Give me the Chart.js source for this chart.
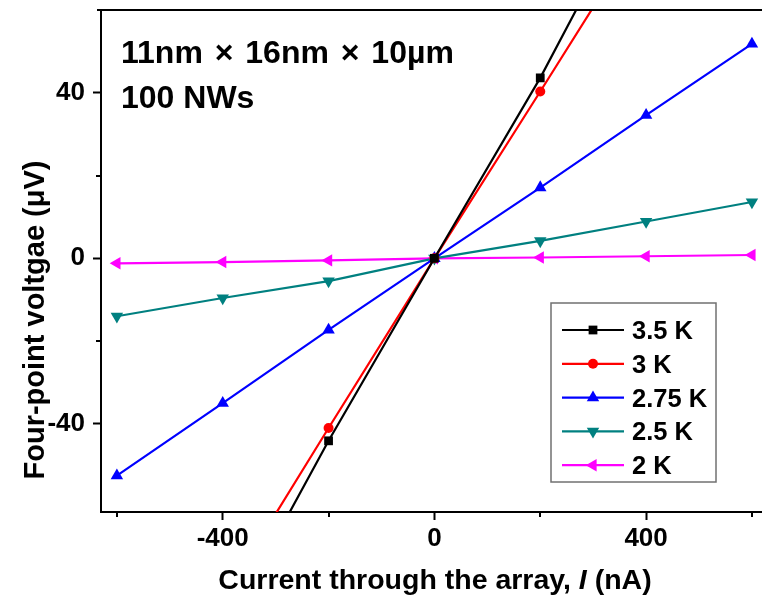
<!DOCTYPE html>
<html><head><meta charset="utf-8">
<script src="https://cdn.jsdelivr.net/npm/chart.js@4/dist/chart.umd.min.js"></script>
<style>html,body{margin:0;padding:0;background:#fff}#wrap{width:762px;height:597px;position:relative}</style>
</head><body><div id="wrap"><canvas id="c" width="762" height="597"></canvas></div>
<script>
const currents = [-600, -400, -200, 0, 200, 400, 600];
const seriesNames = ['3.5 K', '3 K', '2.75 K', '2.5 K', '2 K'];
const v35K = [-133, -91, -44.1, 0, 43.6, 92, 134];
const v3K = [-122, -82.5, -41, 0, 40.3, 81, 121];
const v275K = [-52.5, -35.0, -17.3, 0, 17.1, 34.6, 51.8];
const v25K = [-14.0, -9.6, -5.5, 0, 4.2, 8.9, 13.6];
const v2K = [-1.2, -0.9, -0.5, 0, 0.2, 0.5, 0.8];
const xTicks = [-600, -400, -200, 0, 200, 400, 600];
const xLabelTicks = [-400, 0, 400];
const yTicks = [-40, -20, 0, 20, 40];
const yLabelTicks = [-40, 0, 40];
const annotation1 = ['11nm', '\u00d7', '16nm', '\u00d7', '10\u00b5m'];
const annotation2 = '100 NWs';
const xTitleParts = ['Current through the array, ', 'I', ' (nA)'];
const yTitle = 'Four-point voltgae (\u03bcV)';

const FONT = '"Liberation Sans", Arial, sans-serif';
const styles = [
  {color: '#000000', pointStyle: 'rect', radius: 6.2, rotation: 0},
  {color: '#ff0000', pointStyle: 'circle', radius: 5, rotation: 0},
  {color: '#0000ff', pointStyle: 'triangle', radius: 7.2, rotation: 0},
  {color: '#008080', pointStyle: 'triangle', radius: 7.2, rotation: 180},
  {color: '#ff00ff', pointStyle: 'triangle', radius: 7.2, rotation: 270}
];
const allValues = [v35K, v3K, v275K, v25K, v2K];

const datasets = allValues.map((vals, i) => ({
  label: seriesNames[i],
  data: currents.map((c, j) => ({x: c, y: vals[j]})),
  borderColor: styles[i].color,
  backgroundColor: styles[i].color,
  borderWidth: 2.2,
  pointStyle: styles[i].pointStyle,
  pointRadius: styles[i].radius,
  pointRotation: styles[i].rotation,
  pointBorderWidth: 0,
  pointHoverRadius: styles[i].radius,
  tension: 0,
  clip: 0
}));

function drawMarker(ctx, style, x, y) {
  ctx.save();
  ctx.fillStyle = style.color;
  ctx.translate(x, y);
  ctx.rotate(style.rotation * Math.PI / 180);
  const r = style.radius;
  ctx.beginPath();
  if (style.pointStyle === 'rect') {
    const s = r * Math.SQRT1_2;
    ctx.rect(-s, -s, 2 * s, 2 * s);
  } else if (style.pointStyle === 'circle') {
    ctx.arc(0, 0, r, 0, Math.PI * 2);
  } else {
    ctx.moveTo(0, -r);
    ctx.lineTo(r * Math.sin(Math.PI * 2 / 3), r * 0.5);
    ctx.lineTo(-r * Math.sin(Math.PI * 2 / 3), r * 0.5);
    ctx.closePath();
  }
  ctx.fill();
  ctx.restore();
}

function zeroPad(s) { s.paddingTop = 0; s.paddingBottom = 0; s.paddingLeft = 0; s.paddingRight = 0; }

const decor = {
  id: 'decor',
  afterDraw(chart) {
    const ctx = chart.ctx;
    const ca = chart.chartArea;
    const xs = chart.scales.x, ys = chart.scales.y;
    ctx.save();
    ctx.strokeStyle = '#000'; ctx.lineWidth = 2;
    ctx.beginPath(); ctx.moveTo(ca.left - 4, ca.top); ctx.lineTo(ca.right, ca.top); ctx.stroke();
    xTicks.filter(t => !xLabelTicks.includes(t)).forEach(t => {
      const px = Math.round(xs.getPixelForValue(t));
      ctx.beginPath(); ctx.moveTo(px, ca.bottom); ctx.lineTo(px, ca.bottom + 5); ctx.stroke();
    });
    yTicks.filter(t => !yLabelTicks.includes(t)).forEach(t => {
      const py = Math.round(ys.getPixelForValue(t));
      ctx.beginPath(); ctx.moveTo(ca.left, py); ctx.lineTo(ca.left - 5, py); ctx.stroke();
    });
    ctx.fillStyle = '#000';
    ctx.textBaseline = 'alphabetic';
    ctx.textAlign = 'left';
    ctx.font = 'bold 32px ' + FONT;
    let ax = 121;
    const gap = ctx.measureText(' ').width + 3;
    annotation1.forEach((p) => {
      ctx.fillText(p, ax, 63);
      ax += ctx.measureText(p).width + gap;
    });
    ctx.fillText(annotation2, 121, 108);
    const xf = 'bold 28.5px ' + FONT, xfi = 'bold italic 28.5px ' + FONT;
    ctx.font = xf;
    const w0 = ctx.measureText(xTitleParts[0]).width;
    ctx.font = xfi;
    const w1 = ctx.measureText(xTitleParts[1]).width;
    ctx.font = xf;
    const w2 = ctx.measureText(xTitleParts[2]).width;
    let x0 = 435 - (w0 + w1 + w2) / 2;
    const yb = 589;
    ctx.fillText(xTitleParts[0], x0, yb);
    ctx.font = xfi;
    ctx.fillText(xTitleParts[1], x0 + w0, yb);
    ctx.font = xf;
    ctx.fillText(xTitleParts[2], x0 + w0 + w1, yb);
    ctx.save();
    ctx.translate(44, 320);
    ctx.rotate(-Math.PI / 2);
    ctx.textAlign = 'center';
    ctx.font = 'bold 29px ' + FONT;
    ctx.fillText(yTitle, 0, 0);
    ctx.restore();
    const lx = 551, ly = 303, lw = 165, lh = 179;
    ctx.fillStyle = '#fff';
    ctx.fillRect(lx, ly, lw, lh);
    ctx.strokeStyle = '#707070'; ctx.lineWidth = 1.5;
    ctx.strokeRect(lx, ly, lw, lh);
    ctx.font = 'bold 25.5px ' + FONT;
    seriesNames.forEach((name, i) => {
      const y = 330 + i * 33.8;
      ctx.strokeStyle = styles[i].color; ctx.lineWidth = 2.2;
      ctx.beginPath(); ctx.moveTo(562, y); ctx.lineTo(624, y); ctx.stroke();
      drawMarker(ctx, styles[i], 593, y);
      ctx.fillStyle = '#000';
      ctx.fillText(name, 632, y + 9);
    });
    ctx.restore();
  }
};

new Chart(document.getElementById('c'), {
  type: 'line',
  data: {datasets},
  options: {
    responsive: false,
    animation: false,
    events: [],
    layout: {autoPadding: false, padding: {top: 10, right: 0, left: 0, bottom: 0}},
    plugins: {legend: {display: false}, tooltip: {enabled: false}},
    scales: {
      x: {
        type: 'linear', min: -630, max: 619,
        afterBuildTicks: s => { s.ticks = xLabelTicks.map(v => ({value: v})); },
        afterFit: s => { s.height = 85; zeroPad(s); },
        grid: {drawOnChartArea: false, tickLength: 8, tickWidth: 2, tickColor: '#000'},
        border: {display: true, color: '#000', width: 2},
        ticks: {color: '#000', font: {family: FONT, size: 26, weight: 'bold'}, padding: 3, maxRotation: 0}
      },
      y: {
        type: 'linear', min: -61.3, max: 60,
        afterBuildTicks: s => { s.ticks = yLabelTicks.map(v => ({value: v})); },
        afterFit: s => { s.width = 101; zeroPad(s); },
        grid: {drawOnChartArea: false, tickLength: 8, tickWidth: 2, tickColor: '#000'},
        border: {display: true, color: '#000', width: 2},
        ticks: {color: '#000', font: {family: FONT, size: 26, weight: 'bold'}, padding: 8}
      }
    }
  },
  plugins: [decor]
});
</script>
</body></html>
